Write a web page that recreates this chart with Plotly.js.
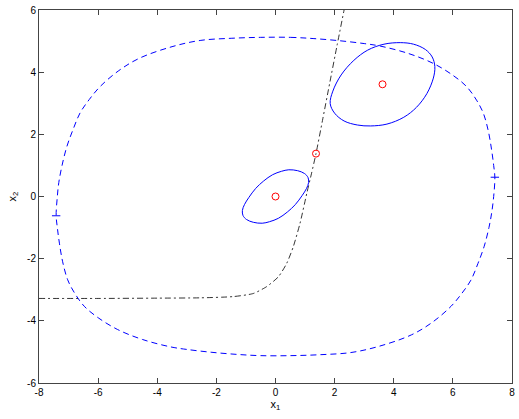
<!DOCTYPE html>
<html>
<head>
<meta charset="utf-8">
<script src="https://cdn.plot.ly/plotly-3.0.1.min.js"></script>
<style>
  html, body { margin: 0; padding: 0; background: #fff; }
  #plot { width: 519px; height: 419px; }
</style>
</head>
<body>
<div id="plot"></div>
<script>
// closed dashed orbit (blue), clockwise from the top
const orbitX = [-0.50, 0.50, 1.30, 2.18, 3.00, 3.54, 4.50, 5.34, 6.00, 6.47, 6.80, 7.03, 7.20, 7.31, 7.38, 7.42, 7.38, 7.31, 7.22, 7.06, 6.85, 6.61, 6.30, 5.94, 5.30, 4.60, 3.50, 2.55, 1.50, 0.50, -0.50, -1.30, -2.18, -3.00, -3.54, -4.50, -5.34, -6.00, -6.47, -6.80, -7.03, -7.20, -7.31, -7.38, -7.42, -7.38, -7.33, -7.22, -7.06, -6.85, -6.61, -6.30, -5.94, -5.30, -4.60, -3.50, -2.55, -1.50, -0.50];
const orbitY = [5.12, 5.12, 5.08, 5.01, 4.92, 4.84, 4.60, 4.28, 3.90, 3.53, 3.10, 2.68, 2.10, 1.50, 1.00, 0.62, 0.00, -0.54, -1.00, -1.60, -2.15, -2.69, -3.12, -3.53, -4.05, -4.45, -4.82, -5.02, -5.09, -5.12, -5.12, -5.08, -5.01, -4.92, -4.84, -4.60, -4.28, -3.90, -3.53, -3.10, -2.68, -2.10, -1.50, -1.00, -0.62, 0.00, 0.45, 1.00, 1.60, 2.15, 2.69, 3.12, 3.53, 4.05, 4.45, 4.82, 5.02, 5.09, 5.12];
const orbitMarkX = [-7.42, 7.42];
const orbitMarkY = [-0.62, 0.62];

// dash-dot boundary (black)
const boundX = [-8.00, -6.00, -4.00, -2.55, -1.43, -0.75, -0.30, 0.10, 0.38, 0.60, 0.83, 1.06, 1.22, 1.37, 1.60, 1.84, 2.08, 2.32];
const boundY = [-3.28, -3.28, -3.27, -3.26, -3.22, -3.12, -2.90, -2.58, -2.15, -1.62, -0.86, 0.11, 0.75, 1.38, 2.50, 3.68, 4.85, 6.00];

// small ellipse around (0, 0)
const ell1X = [0.45, 0.75, 0.98, 1.10, 1.12, 1.05, 0.90, 0.67, 0.40, 0.10, -0.20, -0.45, -0.75, -0.98, -1.10, -1.12, -1.05, -0.90, -0.67, -0.40, -0.10, 0.20, 0.45];
const ell1Y = [0.86, 0.83, 0.74, 0.61, 0.45, 0.26, 0.03, -0.26, -0.50, -0.70, -0.81, -0.86, -0.83, -0.74, -0.61, -0.45, -0.26, -0.03, 0.26, 0.50, 0.70, 0.81, 0.86];

// large ellipse around (3.62, 3.61)
const ell2X = [4.22, 4.67, 5.07, 5.30, 5.39, 5.34, 5.12, 4.77, 4.34, 3.77, 3.22, 2.77, 2.32, 2.00, 1.85, 1.94, 2.22, 2.65, 3.12, 3.67, 4.22];
const ell2Y = [4.95, 4.90, 4.73, 4.49, 4.18, 3.81, 3.31, 2.87, 2.55, 2.33, 2.27, 2.30, 2.43, 2.68, 2.99, 3.39, 3.91, 4.38, 4.71, 4.90, 4.95];

// red circles
const ptX = [0.00, 1.37, 3.62];
const ptY = [0.00, 1.38, 3.61];

const xTicks = [-8, -6, -4, -2, 0, 2, 4, 6, 8];
const yTicks = [-6, -4, -2, 0, 2, 4, 6];

const FONT = 'Liberation Sans, Arial, sans-serif';

const traces = [
  { x: orbitX, y: orbitY, type: 'scatter', mode: 'lines',
    line: { color: '#0000ff', width: 1, dash: '6px,4px', shape: 'spline', smoothing: 1 } },
  { x: orbitMarkX, y: orbitMarkY, type: 'scatter', mode: 'markers',
    marker: { symbol: 'line-ew', size: 6, line: { color: '#0000ff', width: 1 } } },
  { x: boundX, y: boundY, type: 'scatter', mode: 'lines',
    line: { color: '#000000', width: 0.8, dash: '6px,3px,2px,3px', shape: 'spline', smoothing: 0.6 } },
  { x: ell1X, y: ell1Y, type: 'scatter', mode: 'lines',
    line: { color: '#0000ff', width: 1, shape: 'spline', smoothing: 1 } },
  { x: ell2X, y: ell2Y, type: 'scatter', mode: 'lines',
    line: { color: '#0000ff', width: 1, shape: 'spline', smoothing: 1 } },
  { x: ptX, y: ptY, type: 'scatter', mode: 'markers',
    marker: { symbol: 'circle-open', size: 7, color: '#ff0000', line: { color: '#ff0000', width: 1 } } }
];

const axisBase = {
  showgrid: false, zeroline: false,
  showline: true, linecolor: '#444', linewidth: 1, mirror: 'ticks',
  ticks: 'inside', ticklen: 5, tickwidth: 1, tickcolor: '#444',
  tickfont: { family: FONT, size: 10, color: '#000' },
  tickmode: 'array', fixedrange: true
};

const layout = {
  width: 519, height: 419,
  margin: { l: 39, r: 7, t: 10, b: 36 },
  paper_bgcolor: '#fff', plot_bgcolor: '#fff',
  showlegend: false,
  xaxis: Object.assign({}, axisBase, {
    range: [-8, 8], tickvals: xTicks, ticktext: xTicks.map(String),
    title: { text: 'x<sub>1</sub>', standoff: 2, font: { family: FONT, size: 11, color: '#000' } }
  }),
  yaxis: Object.assign({}, axisBase, {
    range: [-6, 6], tickvals: yTicks, ticktext: yTicks.map(String),
    title: { text: 'x<sub>2</sub>', standoff: 8, font: { family: FONT, size: 11, color: '#000' } }
  })
};

Plotly.newPlot('plot', traces, layout, { displayModeBar: false, staticPlot: true });
</script>
</body>
</html>
